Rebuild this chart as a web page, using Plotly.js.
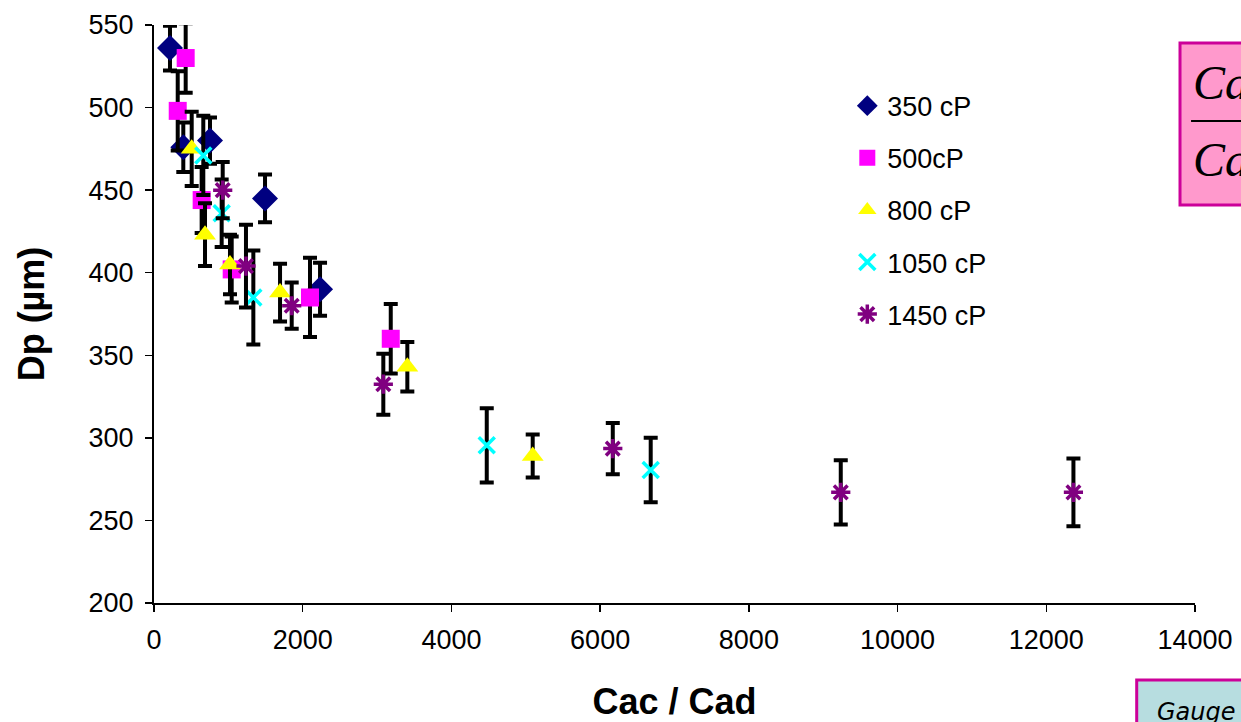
<!DOCTYPE html>
<html>
<head>
<meta charset="utf-8">
<script src="https://cdn.plot.ly/plotly-3.0.1.min.js"></script>
<style>html,body{margin:0;padding:0;background:#fff;}#chart{width:1241px;height:722px;}</style>
</head>
<body>
<div id="chart"></div>
<script>
// Series names
const seriesNames = ["350 cP", "500cP", "800 cP", "1050 cP", "1450 cP"];

// 350 cP
const x350 = [215, 394, 753, 1493, 2233];
const y350 = [536, 476, 480, 445, 390];
const e350 = [13.5, 15, 14, 14.5, 16];

// 500 cP
const x500 = [426, 319, 641, 1045, 2098, 3184];
const y500 = [530, 498, 444, 402, 385, 360];
const e500 = [21, 24, 20, 20, 24, 21];

// 800 cP
const x800 = [507, 686, 1022, 1695, 3407, 5093];
const y800 = [475, 423, 405, 388, 343, 289];
const e800 = [22.5, 19, 18, 17.5, 15, 13];

// 1050 cP
const x1050 = [663, 910, 1336, 4475, 6680];
const y1050 = [471, 436, 385, 295.5, 280.5];
const e1050 = [24, 20.5, 28.5, 22.5, 19.5];

// 1450 cP
const x1450 = [924, 1237, 1852, 3084, 6170, 9236, 12365];
const y1450 = [450, 404, 380, 332.5, 293.5, 267, 267];
const e1450 = [17, 25, 14, 18.5, 15.5, 19.5, 20.5];

const xTicks = [0, 2000, 4000, 6000, 8000, 10000, 12000, 14000];
const yTicks = [200, 250, 300, 350, 400, 450, 500, 550];

function errBar(arr) {
  return {type: 'data', array: arr, visible: true, color: '#000000', thickness: 4, width: 7};
}

const traces = [
  {x: x350, y: y350, name: seriesNames[0], legendgroup: 'a', type: 'scatter', mode: 'markers',
   error_y: errBar(e350),
   marker: {symbol: 'diamond', size: 20, color: '#000080', line: {width: 0}}},
  {x: x500, y: y500, name: seriesNames[1], legendgroup: 'b', type: 'scatter', mode: 'markers',
   error_y: errBar(e500),
   marker: {symbol: 'square', size: 18, color: '#FF00FF', line: {width: 0}}},
  {x: x800, y: y800, name: seriesNames[2], legendgroup: 'c', type: 'scatter', mode: 'markers',
   error_y: errBar(e800),
   marker: {symbol: 'triangle-up', size: 19, color: '#FFFF00', line: {width: 0}}},
  {x: x1050, y: y1050, name: seriesNames[3], legendgroup: 'd', type: 'scatter', mode: 'markers',
   error_y: errBar(e1050),
   marker: {symbol: 'x-thin-open', size: 16, color: '#00FFFF', line: {width: 3.5, color: '#00FFFF'}}},
  {x: x1450, y: y1450, name: seriesNames[4], legendgroup: 'e', type: 'scatter', mode: 'markers',
   error_y: errBar(e1450),
   marker: {symbol: 'asterisk-open', size: 16, color: '#800080', line: {width: 3.5, color: '#800080'}}}
];

const font = 'Liberation Sans, Arial, sans-serif';

const layout = {
  width: 1241, height: 722,
  margin: {l: 154, r: 46, t: 25, b: 119},
  paper_bgcolor: '#ffffff', plot_bgcolor: '#ffffff',
  showlegend: true,
  font: {family: font, color: '#000000', size: 28},
  xaxis: {
    range: [0, 14000], tickvals: xTicks, ticktext: xTicks.map(String),
    showgrid: false, zeroline: false, showline: true, linecolor: '#000', linewidth: 2,
    ticks: 'outside', ticklen: 7, tickwidth: 1.5, tickcolor: '#000',
    tickfont: {family: font, size: 27, color: '#000'},
    ticklabelstandoff: 5,
    title: {text: 'Cac / Cad', font: {family: font, size: 36, color: '#000', weight: 'bold'}, standoff: 37}
  },
  yaxis: {
    range: [200, 550], tickvals: yTicks, ticktext: yTicks.map(String),
    showgrid: false, zeroline: false, showline: true, linecolor: '#000', linewidth: 2,
    ticks: 'outside', ticklen: 7, tickwidth: 1.5, tickcolor: '#000',
    tickfont: {family: font, size: 27, color: '#000'},
    ticklabelstandoff: 6,
    title: {text: 'Dp (µm)', font: {family: font, size: 36, color: '#000', weight: 'bold'}, standoff: 33}
  },
  legend: {
    x: 0.666, y: 0.902, xanchor: 'left', yanchor: 'top',
    bgcolor: 'rgba(0,0,0,0)', borderwidth: 0,
    font: {family: font, size: 27, color: '#000'},
    tracegroupgap: 14, itemwidth: 30
  },
  shapes: [
    {type: 'rect', xref: 'paper', yref: 'paper', x0: 0.9856, x1: 1.08, y0: 0.6886, y1: 0.9689,
     fillcolor: '#FF99CC', line: {color: '#CC0099', width: 3}},
    {type: 'line', xref: 'paper', yref: 'paper', x0: 0.9962, x1: 1.08, y0: 0.8339, y1: 0.8339,
     line: {color: '#000', width: 2}},
    {type: 'rect', xref: 'paper', yref: 'paper', x0: 0.944, x1: 1.08, y0: -0.40, y1: -0.1332,
     fillcolor: '#B7DDE0', line: {color: '#CC0099', width: 3}}
  ],
  annotations: [
    {xref: 'paper', yref: 'paper', x: 0.9962, y: 0.9, xanchor: 'left', yanchor: 'middle', showarrow: false,
     text: 'Cac', font: {family: 'Liberation Serif, Times New Roman, serif', size: 48, color: '#000', style: 'italic'}},
    {xref: 'paper', yref: 'paper', x: 0.9962, y: 0.768, xanchor: 'left', yanchor: 'middle', showarrow: false,
     text: 'Cad', font: {family: 'Liberation Serif, Times New Roman, serif', size: 48, color: '#000', style: 'italic'}},
    {xref: 'paper', yref: 'paper', x: 0.9615, y: -0.188, xanchor: 'left', yanchor: 'middle', showarrow: false,
     text: 'Gauge', font: {family: 'DejaVu Sans, sans-serif', size: 24, color: '#000', style: 'italic'}}
  ]
};

Plotly.newPlot('chart', traces, layout, {displayModeBar: false, staticPlot: true});
</script>
</body>
</html>
